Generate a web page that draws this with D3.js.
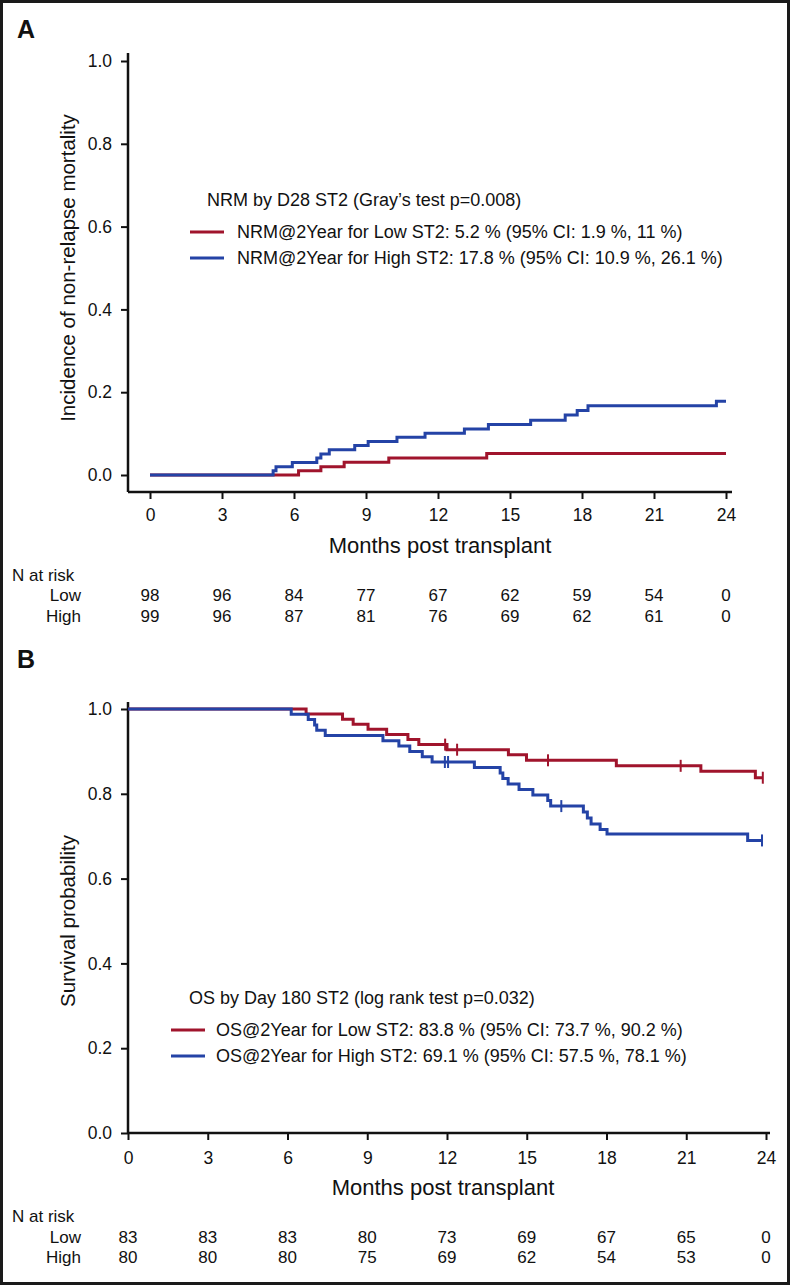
<!DOCTYPE html>
<html><head><meta charset="utf-8">
<script src="https://cdn.jsdelivr.net/npm/d3@7"></script>
<style>
html,body{margin:0;padding:0;background:#fff;}
svg{display:block;}
text{font-family:"Liberation Sans",Arial,Helvetica,sans-serif;fill:#111;}
</style></head>
<body>
<svg id="chart" width="790" height="1285"></svg>
<script>
// ---------- DATA ----------
const xTicks = [0, 3, 6, 9, 12, 15, 18, 21, 24];
const yTicks = [0, 0.2, 0.4, 0.6, 0.8, 1.0];

// Panel A: cumulative incidence of NRM
const nrmLowTime  = [0, 6.19, 7.12, 8.09, 9.95, 14.03, 24];
const nrmLowValue = [0, 0.010, 0.020, 0.031, 0.041, 0.052, 0.052];
const nrmHighTime  = [0, 5.13, 5.25, 5.93, 6.95, 7.12, 7.47, 8.53, 9.09, 10.29, 11.46, 13.1, 14.1, 15.86, 17.3, 17.8, 18.25, 23.6, 24];
const nrmHighValue = [0, 0.010, 0.020, 0.030, 0.041, 0.051, 0.061, 0.071, 0.081, 0.091, 0.101, 0.111, 0.122, 0.132, 0.145, 0.156, 0.167, 0.178, 0.178];

// Panel B: overall survival
const osLowTime  = [0, 6.70, 8.07, 8.47, 9.03, 9.73, 10.53, 10.94, 12.0, 14.31, 14.99, 18.37, 21.55, 23.6, 23.88];
const osLowValue = [1, 0.988, 0.976, 0.964, 0.952, 0.940, 0.928, 0.916, 0.904, 0.892, 0.879, 0.866, 0.853, 0.838, 0.838];
const osLowCensorTime  = [11.93, 12.38, 15.8, 20.79, 23.88];
const osLowCensorValue = [0.916, 0.904, 0.879, 0.866, 0.838];
const osHighTime  = [0, 6.14, 6.78, 7.02, 7.1, 7.42, 9.59, 10.19, 10.6, 11.07, 11.44, 13.03, 14.0, 14.1, 14.3, 14.71, 15.23, 15.79, 15.9, 17.13, 17.28, 17.42, 17.76, 18.02, 23.31, 23.85];
const osHighValue = [1, 0.9875, 0.975, 0.9625, 0.95, 0.9375, 0.925, 0.9125, 0.90, 0.8875, 0.875, 0.862, 0.849, 0.836, 0.823, 0.810, 0.797, 0.784, 0.771, 0.757, 0.743, 0.729, 0.716, 0.705, 0.690, 0.690];
const osHighCensorTime  = [11.92, 12.04, 16.3, 23.85];
const osHighCensorValue = [0.875, 0.875, 0.771, 0.690];

// Numbers at risk
const riskTimes = [0, 3, 6, 9, 12, 15, 18, 21, 24];
const nrmRiskLow  = [98, 96, 84, 77, 67, 62, 59, 54, 0];
const nrmRiskHigh = [99, 96, 87, 81, 76, 69, 62, 61, 0];
const osRiskLow   = [83, 83, 83, 80, 73, 69, 67, 65, 0];
const osRiskHigh  = [80, 80, 80, 75, 69, 62, 54, 53, 0];

// Texts
const panelLabels = ["A", "B"];
const yTitles = ["Incidence of non-relapse mortality", "Survival probability"];
const xTitle = "Months post transplant";
const legendTitles = ["NRM by D28 ST2 (Gray\u2019s test p=0.008)", "OS by Day 180 ST2 (log rank test p=0.032)"];
const legendLowA  = "NRM@2Year for Low ST2: 5.2 % (95% CI: 1.9 %, 11 %)";
const legendHighA = "NRM@2Year for High ST2: 17.8 % (95% CI: 10.9 %, 26.1 %)";
const legendLowB  = "OS@2Year for Low ST2: 83.8 % (95% CI: 73.7 %, 90.2 %)";
const legendHighB = "OS@2Year for High ST2: 69.1 % (95% CI: 57.5 %, 78.1 %)";
const riskHeader = "N at risk";
const groupNames = ["Low", "High"];

// ---------- STYLE ----------
const RED = "#a0142c", BLUE = "#2443a6";
const svg = d3.select("#chart");

// frame
svg.append("rect").attr("x", 1.5).attr("y", 1.5).attr("width", 787).attr("height", 1282)
  .attr("fill", "none").attr("stroke", "#1a1a1a").attr("stroke-width", 3);

const zip = (t, v) => t.map((d, i) => ({t: d, v: v[i]}));

function panel(cfg) {
  const g = svg.append("g");
  const x = d3.scaleLinear().domain([0, 24]).range(cfg.xRange);
  const y = d3.scaleLinear().domain([0, 1]).range(cfg.yRange);

  // panel label
  g.append("text").attr("x", 17).attr("y", cfg.labelY).text(cfg.label)
    .style("font-size", "25px").style("font-weight", "bold");

  // y axis
  const ya = g.append("g").attr("transform", `translate(${cfg.axisX},0)`)
    .call(d3.axisLeft(y).tickValues(yTicks).tickFormat(d3.format(".1f")).tickSize(7).tickPadding(9).tickSizeOuter(0));
  ya.select(".domain").remove();
  ya.selectAll("line").attr("stroke", "#111").attr("stroke-width", 2);
  ya.selectAll("text").style("font-size", "17.5px").style("font-family", '"Liberation Sans",Arial,sans-serif').attr("fill", "#111");
  g.append("line").attr("x1", cfg.axisX).attr("x2", cfg.axisX).attr("y1", cfg.yAxisTop).attr("y2", cfg.axisY)
    .attr("stroke", "#111").attr("stroke-width", 2.5);

  // x axis
  const xa = g.append("g").attr("transform", `translate(0,${cfg.axisY})`)
    .call(d3.axisBottom(x).tickValues(xTicks).tickFormat(d3.format("d")).tickSize(7).tickPadding(cfg.xPad).tickSizeOuter(0));
  xa.select(".domain").remove();
  xa.selectAll("line").attr("stroke", "#111").attr("stroke-width", 2);
  xa.selectAll("text").style("font-size", "17.5px").style("font-family", '"Liberation Sans",Arial,sans-serif').attr("fill", "#111");
  g.append("line").attr("x1", cfg.axisX).attr("x2", cfg.xAxisRight).attr("y1", cfg.axisY).attr("y2", cfg.axisY)
    .attr("stroke", "#111").attr("stroke-width", 2.5);

  // titles
  g.append("text").attr("x", cfg.xTitleX).attr("y", cfg.xTitleY).attr("text-anchor", "middle")
    .style("font-size", "22px").text(xTitle);
  const ymid = (cfg.yRange[0] + cfg.yRange[1]) / 2;
  g.append("text").attr("transform", `translate(75,${ymid}) rotate(-90)`).attr("text-anchor", "middle")
    .style("font-size", "20.5px").text(cfg.yTitle);

  // curves
  const line = d3.line().x(d => x(d.t)).y(d => y(d.v)).curve(d3.curveStepAfter);
  cfg.series.forEach(s => {
    g.append("path").datum(zip(s.t, s.v)).attr("d", line).attr("fill", "none")
      .attr("stroke", s.color).attr("stroke-width", 3).attr("stroke-linejoin", "miter");
    if (s.ct) {
      g.selectAll(null).data(zip(s.ct, s.cv)).enter().append("line")
        .attr("x1", d => x(d.t)).attr("x2", d => x(d.t))
        .attr("y1", d => y(d.v) - 6).attr("y2", d => y(d.v) + 6)
        .attr("stroke", s.color).attr("stroke-width", 2);
    }
  });

  // legend
  const L = cfg.legend;
  g.append("text").attr("x", L.titleX).attr("y", L.titleY).style("font-size", "18px").text(L.title);
  L.items.forEach((it, i) => {
    const yy = L.itemY + i * L.gap;
    g.append("line").attr("x1", L.lineX).attr("x2", L.lineX + 34).attr("y1", yy).attr("y2", yy)
      .attr("stroke", it.color).attr("stroke-width", 3);
    g.append("text").attr("x", L.textX).attr("y", yy + 6).style("font-size", "18px").text(it.text);
  });

  // risk table
  const R = cfg.risk;
  g.append("text").attr("x", 12).attr("y", R.headerY).style("font-size", "17px").text(riskHeader);
  [R.low, R.high].forEach((vals, i) => {
    const yy = R.rowY + i * R.rowGap;
    g.append("text").attr("x", 81).attr("y", yy).attr("text-anchor", "end").style("font-size", "17px").text(groupNames[i]);
    g.selectAll(null).data(vals).enter().append("text")
      .attr("x", (d, j) => x(riskTimes[j])).attr("y", yy).attr("text-anchor", "middle")
      .style("font-size", "17px").text(d => d);
  });
}

panel({
  label: panelLabels[0], labelY: 38,
  xRange: [150, 726], yRange: [475, 61],
  axisX: 128, axisY: 492, yAxisTop: 53, xAxisRight: 732, xPad: 10,
  xTitleX: 440, xTitleY: 553, yTitle: yTitles[0],
  series: [
    {t: nrmLowTime, v: nrmLowValue, color: RED},
    {t: nrmHighTime, v: nrmHighValue, color: BLUE}
  ],
  legend: {title: legendTitles[0], titleX: 207, titleY: 206, lineX: 190, textX: 237, itemY: 232, gap: 26,
    items: [{color: RED, text: legendLowA}, {color: BLUE, text: legendHighA}]},
  risk: {headerY: 581, rowY: 601, rowGap: 21, low: nrmRiskLow, high: nrmRiskHigh}
});

panel({
  label: panelLabels[1], labelY: 668,
  xRange: [128, 766], yRange: [1133, 709],
  axisX: 128, axisY: 1133, yAxisTop: 702, xAxisRight: 770, xPad: 12,
  xTitleX: 443, xTitleY: 1195, yTitle: yTitles[1],
  series: [
    {t: osLowTime, v: osLowValue, color: RED, ct: osLowCensorTime, cv: osLowCensorValue},
    {t: osHighTime, v: osHighValue, color: BLUE, ct: osHighCensorTime, cv: osHighCensorValue}
  ],
  legend: {title: legendTitles[1], titleX: 189, titleY: 1004, lineX: 171, textX: 216, itemY: 1030, gap: 26,
    items: [{color: RED, text: legendLowB}, {color: BLUE, text: legendHighB}]},
  risk: {headerY: 1222, rowY: 1243, rowGap: 20, low: osRiskLow, high: osRiskHigh}
});
</script>
</body></html>
